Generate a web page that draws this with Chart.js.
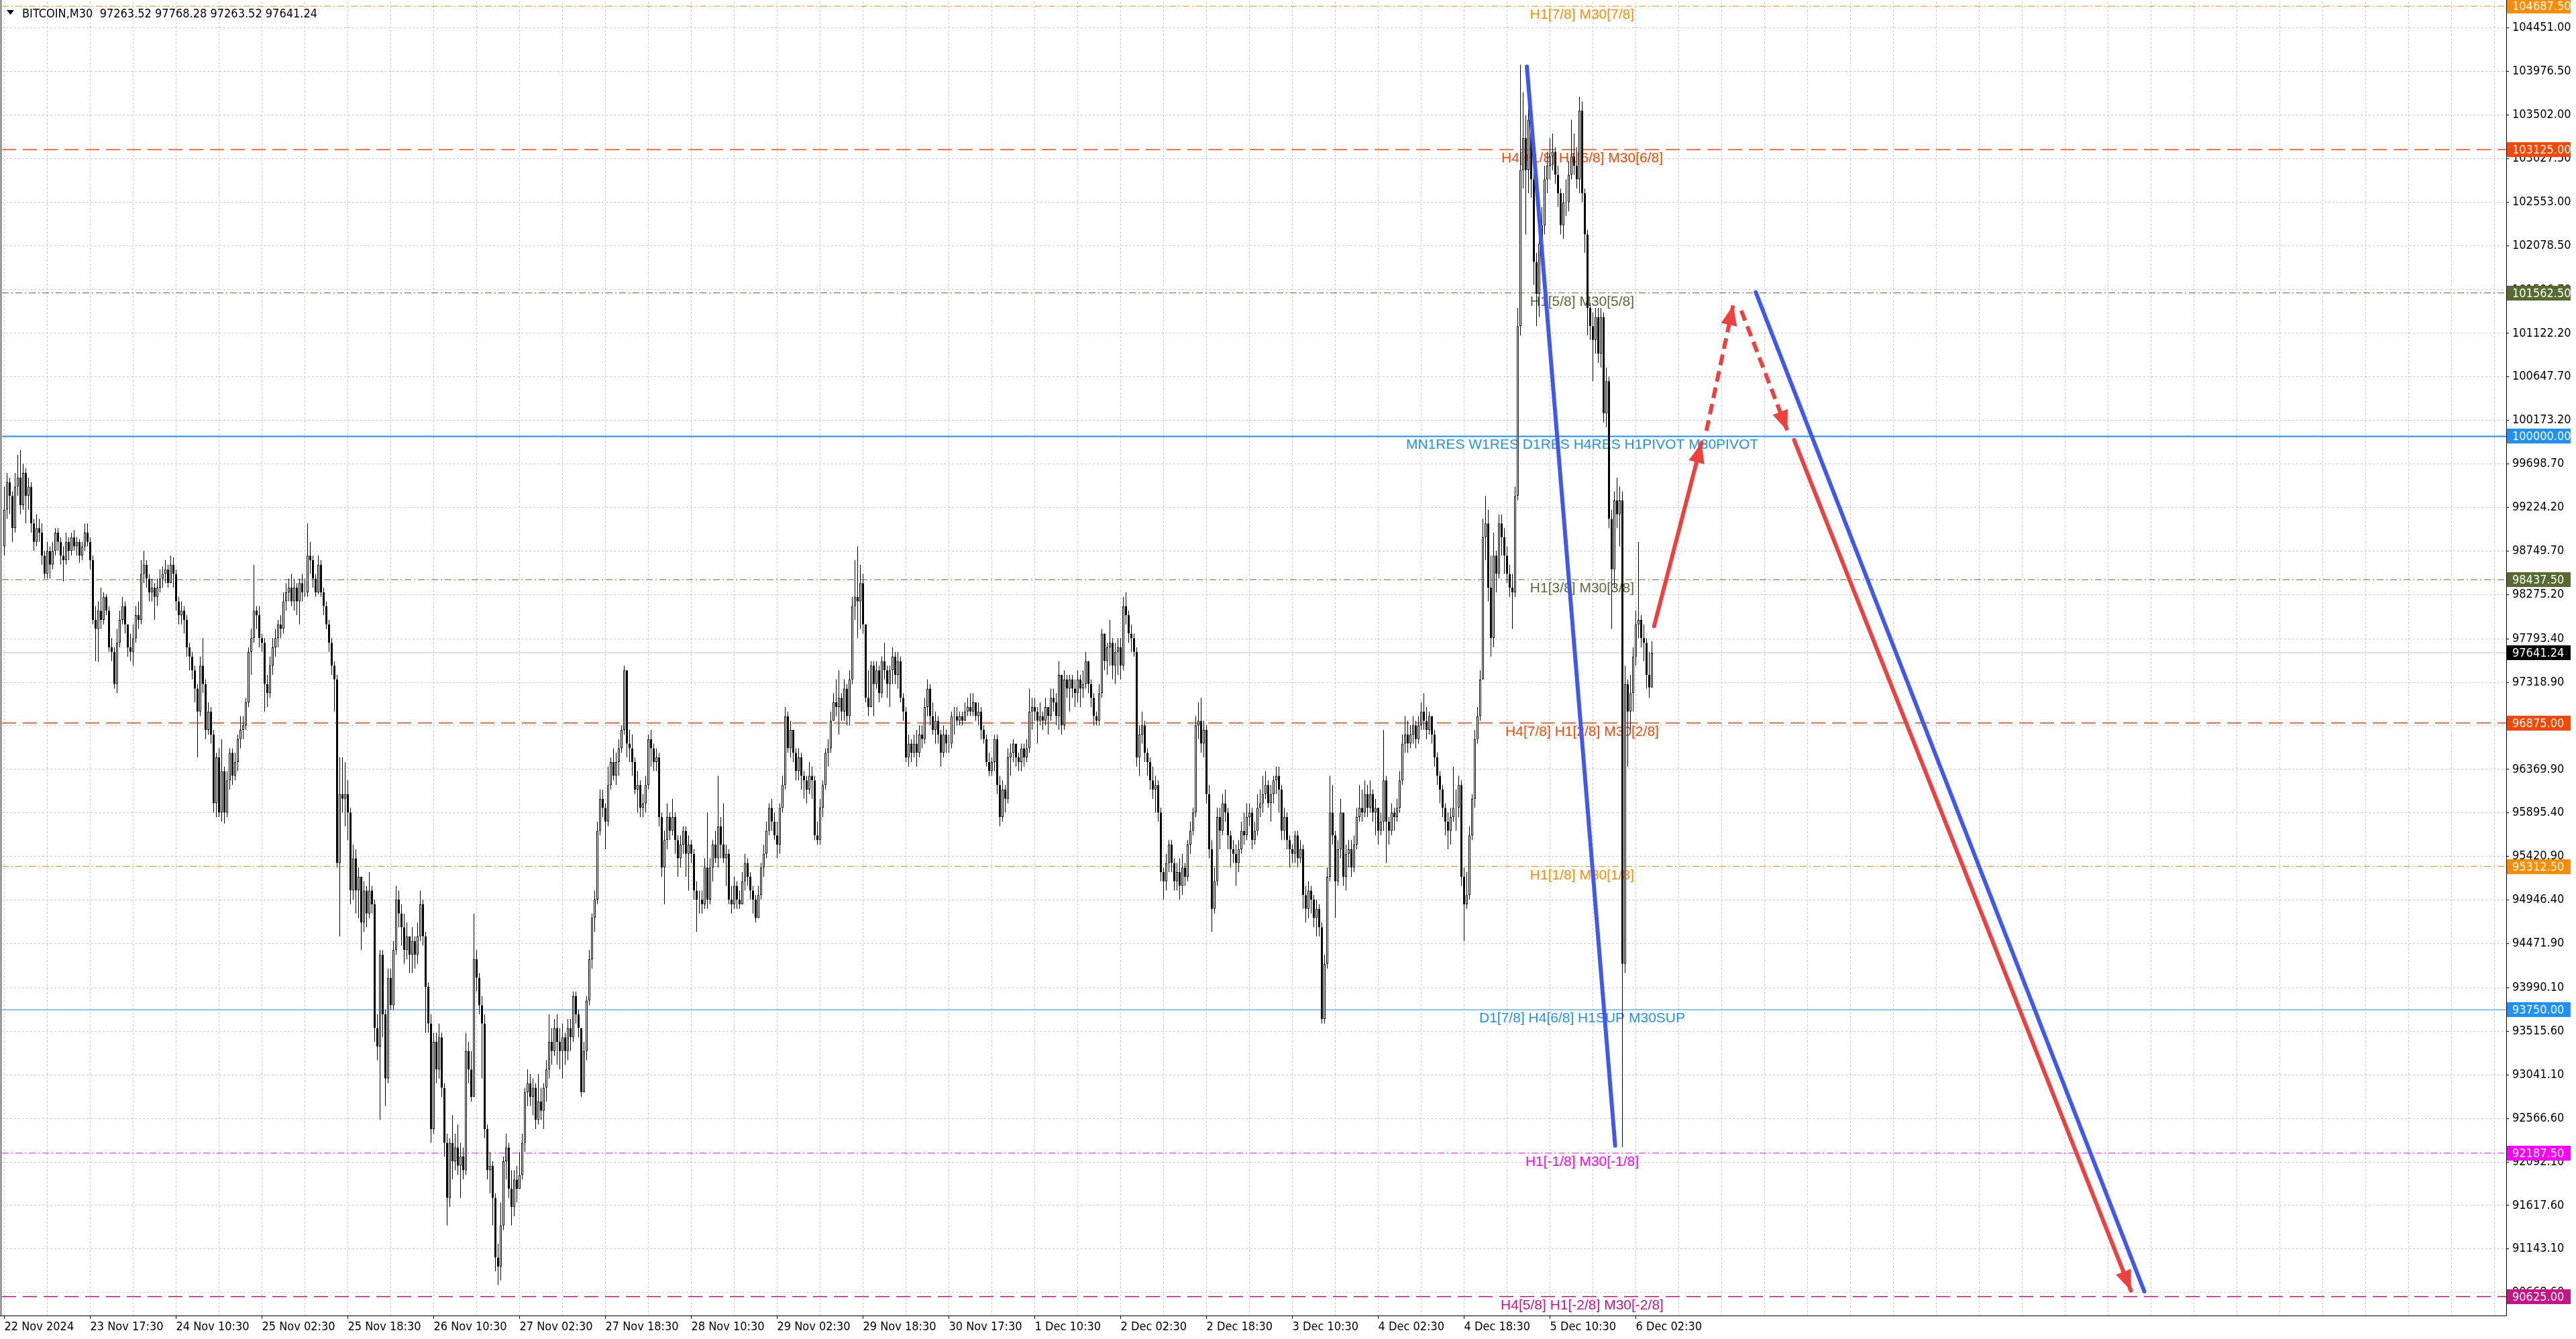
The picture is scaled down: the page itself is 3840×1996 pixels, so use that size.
<!DOCTYPE html>
<html>
<head>
<meta charset="utf-8">
<script src="https://cdn.jsdelivr.net/npm/chart.js@4.4.1/dist/chart.umd.min.js"></script>
<style>
  html, body { margin: 0; padding: 0; background: #ffffff; overflow: hidden; }
  canvas { display: block; }
</style>
</head>
<body>
<canvas id="btcChart" width="3840" height="1996"></canvas>
<script>
// BITCOIN M30 - candles, open = previous close
const firstOpen = 98800;
const closes = [
  99200, 99500, 99350, 99000, 99450, 99550, 99250, 99600, 99350, 99450,
  99050, 98850, 99000, 98950, 98700, 98500, 98750, 98600, 98750, 98950,
  98850, 98700, 98650, 98850, 98750, 98900, 98800, 98850, 98700, 98800,
  98950, 98850, 98650, 98000, 97900, 98100, 98000, 98250, 98100, 97700,
  97650, 97300, 97750, 98000, 98150, 97950, 97700, 97650, 97800, 98050,
  98000, 98500, 98600, 98450, 98300, 98350, 98250, 98350, 98450, 98500,
  98550, 98400, 98600, 98500, 98200, 98050, 98100, 98000, 97700, 97600,
  97450, 97250, 97000, 97500, 97300, 96800, 97000, 96750, 96000, 96500,
  95900, 96350, 95900, 96250, 96550, 96300, 96450, 96700, 96800, 96850,
  97100, 97650, 97800, 98100, 98050, 97800, 97750, 97300, 97200, 97500,
  97700, 97800, 97950, 97900, 98200, 98300, 98350, 98200, 98350, 98200,
  98400, 98300, 98300, 98700, 98650, 98450, 98300, 98600, 98300, 98150,
  97950, 97750, 97500, 97350, 95350, 96100, 96050, 96100, 95900, 95050,
  95400, 95050, 95200, 94700, 95050, 94800, 95050, 94900, 93550, 93350,
  94350, 93700, 93000, 94100, 93800, 94400, 94950, 94800, 94650, 94400,
  94550, 94350, 94500, 94350, 94550, 94900, 94550, 94000, 93600, 92450,
  93400, 93100, 93450, 92900, 92300, 91700, 92300, 92100, 92250, 92050,
  92150, 92000, 93300, 93100, 92800, 94300, 94100, 93800, 93600, 92450,
  92000, 92050, 91700, 91050, 90950, 91400, 92100, 92250, 91800, 91600,
  91900, 91800, 91950, 92300, 92850, 92950, 92800, 92900, 92550, 92750,
  92650, 92900, 93100, 93400, 93300, 93550, 93400, 93300, 93450, 93300,
  93550, 93450, 93900, 93700, 93550, 92850, 93300, 93850, 94300, 94750,
  94950, 95700, 96050, 95950, 95800, 96200, 96450, 96300, 96450, 96600,
  96800, 97450, 96650, 96600, 96450, 96150, 96200, 95950, 96000, 96200,
  96700, 96600, 96450, 96500, 95850, 95300, 95600, 95850, 95700, 95850,
  95600, 95400, 95550, 95700, 95450, 95550, 95450, 95050, 94950, 94950,
  94900, 95300, 94950, 95300, 95550, 95400, 95750, 95550, 95400, 95450,
  94950, 94900, 95100, 94950, 94900, 95150, 95350, 95200, 95050, 94950,
  94750, 95000, 95300, 95450, 95700, 95950, 95800, 95650, 95550, 95950,
  96200, 96950, 96600, 96800, 96550, 96350, 96500, 96300, 96250, 96150,
  96300, 96250, 95650, 95600, 95950, 96200, 96550, 96600, 96900, 97100,
  97050, 97150, 97000, 97250, 96950, 97350, 98150, 98250, 98200, 98400,
  97950, 97150, 97050, 97500, 97300, 97450, 97200, 97550, 97450, 97300,
  97450, 97600, 97400, 97550, 97150, 97000, 96500, 96650, 96550, 96650,
  96550, 96750, 96700, 97050, 97250, 96950, 96800, 96900, 96750, 96550,
  96750, 96650, 96650, 96950, 96950, 96900, 96950, 96900, 97000, 97050,
  97000, 97100, 96950, 97000, 96800, 96700, 96450, 96350, 96450, 96700,
  96200, 95850, 96150, 96050, 96500, 96550, 96650, 96500, 96450, 96600,
  96500, 96600, 97000, 97050, 97000, 96900, 96950, 96900, 97050, 96950,
  97150, 97100, 96950, 97400, 96850, 97350, 97250, 97350, 97250, 97200,
  97350, 97250, 97300, 97550, 97300, 97150, 96950, 96900, 97200, 97850,
  97550, 97700, 97750, 97500, 97650, 97700, 97500, 98150, 98050, 97850,
  97800, 97650, 96500, 96750, 96850, 96550, 96450, 96250, 96150, 96200,
  95900, 95250, 95150, 95350, 95550, 95350, 95150, 95250, 95100, 95300,
  95200, 95550, 95700, 95900, 96850, 96900, 96650, 96800, 96100, 95500,
  94850, 95150, 95850, 95700, 96000, 95900, 95650, 95500, 95450, 95350,
  95500, 95700, 95650, 95850, 95900, 95600, 95700, 95950, 96000, 96100,
  96200, 96000, 96100, 96250, 96300, 96150, 95700, 95850, 95600, 95500,
  95450, 95650, 95400, 95500, 95000, 94850, 95050, 94950, 94750, 94850,
  94650, 93650, 94250, 95200, 95900, 95650, 95150, 95500, 95900, 95200,
  95450, 95500, 95300, 95550, 95850, 95950, 95900, 96100, 95950, 96100,
  95900, 95950, 95700, 95800, 96250, 95800, 95700, 95900, 95850, 95950,
  96250, 96650, 96750, 96650, 96750, 96850, 96700, 96850, 97000, 96900,
  96800, 96950, 96750, 96500, 96300, 96150, 95950, 95800, 95700, 95850,
  95950, 95950, 96200, 95200, 94900, 95000, 95650, 96050, 96700, 96950,
  97350, 98900, 99050, 98350, 97800, 98700, 98500, 99050, 98900, 98700,
  98500, 98350, 98300, 99350, 101200, 102900, 103250, 102900, 103450, 102800,
  101900, 101550, 102100, 102300, 102800, 102950, 103050, 103100, 102850, 102650,
  102300, 102550, 102550, 102850, 103050, 102950, 102800, 103550, 102650, 102200,
  101400, 101200, 101050, 101300, 100900, 101300, 100250, 100600, 99100, 98550,
  99300, 99150, 99300, 94250, 97300, 97000, 97200, 97600, 97950, 98000,
  97800, 97750, 97400, 97263.52, 97641.24
];
const highs = [
  99450, 99600, 99550, 99400, 99600, 99800, 99850, 99700, 99650, 99550,
  99500, 99100, 99150, 99100, 99050, 98750, 98850, 98800, 98850, 99000,
  99000, 98900, 98800, 98950, 98900, 98950, 98980, 98900, 98880, 98850,
  99050, 99050, 98900, 98700, 98150, 98200, 98350, 98300, 98280, 98150,
  97800, 97700, 97900, 98100, 98250, 98200, 97950, 97850, 97950, 98150,
  98200, 98650, 98750, 98650, 98500, 98450, 98400, 98450, 98550, 98580,
  98650, 98600, 98700, 98680, 98550, 98250, 98200, 98150, 98050, 97750,
  97650, 97500, 97300, 97600, 97800, 97350, 97100, 97050, 96800, 96550,
  96600, 96700, 96400, 96350, 96600, 96600, 96550, 96750, 96950, 96950,
  97150, 97700, 97900, 98600, 98150, 98150, 97850, 97800, 97400, 97600,
  97800, 97900, 98000, 98050, 98300, 98400, 98450, 98500, 98450, 98400,
  98450, 98500, 98450, 99050, 98850, 98700, 98500, 98700, 98650, 98350,
  98200, 98000, 97800, 97550, 97400, 96500, 96500, 96450, 96250, 95950,
  95550, 95500, 95300, 95200, 95150, 95100, 95250, 95100, 94950, 93700,
  94400, 94400, 93750, 94200, 94200, 94500, 95100, 95050, 94900, 94800,
  94700, 94550, 94650, 94550, 94700, 95050, 94950, 94600, 94050, 93700,
  93500, 93500, 93600, 93500, 92950, 92400, 92350, 92600, 92400, 92500,
  92300, 92250, 93500, 93400, 93300, 94800, 94400, 94150, 93900, 93700,
  92500, 92200, 92100, 91750, 91200, 91650, 92150, 92400, 92300, 92000,
  92000, 92050, 92200, 92400, 92900, 93100, 93050, 93000, 92950, 93050,
  92900, 92950, 93200, 93700, 93550, 93650, 93700, 93550, 93600, 93500,
  93650, 93650, 93950, 93950, 93750, 93550, 93400, 93900, 94400, 94800,
  95050, 95800, 96150, 96150, 96000, 96400, 96500, 96600, 96550, 96700,
  96850, 97500, 97450, 96800, 96750, 96500, 96350, 96250, 96100, 96300,
  96750, 96800, 96650, 96600, 96550, 95900, 95700, 96000, 95900, 96050,
  95900, 95650, 95650, 95750, 95750, 95650, 95600, 95500, 95150, 95050,
  95050, 95400, 95900, 95400, 95600, 95700, 96300, 95850, 96000, 95550,
  95500, 95100, 95200, 95150, 95050, 95250, 95450, 95400, 95250, 95100,
  95000, 95100, 95350, 95550, 95800, 96000, 96050, 95900, 95800, 96000,
  96300, 97050, 97000, 96900, 96800, 96600, 96600, 96550, 96350, 96300,
  96450, 96400, 96300, 95800, 96050, 96250, 96600, 96700, 97000, 97200,
  97350, 97450, 97200, 97350, 97300, 97450, 98250, 98650, 98800, 98600,
  98500, 97950, 97450, 97550, 97550, 97550, 97500, 97600, 97750, 97500,
  97500, 97700, 97650, 97650, 97600, 97200, 97050, 96750, 96700, 96750,
  96800, 96850, 96850, 97150, 97350, 97300, 97100, 97000, 96950, 96800,
  96850, 96800, 96750, 97000, 97050, 97050, 97000, 97000, 97100, 97150,
  97200, 97200, 97100, 97100, 97050, 96850, 96750, 96550, 96500, 96750,
  96750, 96300, 96250, 96200, 96600, 96650, 96700, 96650, 96550, 96650,
  96650, 96700, 97250, 97150, 97150, 97050, 97100, 97000, 97150, 97050,
  97250, 97250, 97200, 97550, 97400, 97450, 97400, 97400, 97400, 97350,
  97450, 97400, 97450, 97650, 97550, 97350, 97200, 97000, 97300, 97900,
  97850, 97750, 98000, 97800, 97750, 97800, 97800, 98250, 98300, 98100,
  97950, 97850, 97700, 96850, 97000, 96900, 96600, 96500, 96400, 96300,
  96250, 95950, 95300, 95450, 95600, 95600, 95400, 95350, 95400, 95450,
  95350, 95600, 95800, 95950, 96950, 97100, 97150, 96900, 96850, 96200,
  95600, 95300, 95950, 95950, 96100, 96150, 95950, 95700, 95600, 95550,
  95600, 95800, 95900, 96000, 96000, 95950, 95800, 96100, 96150, 96300,
  96350, 96250, 96200, 96300, 96400, 96400, 96200, 95950, 95900, 95650,
  95550, 95700, 95700, 95600, 95550, 95100, 95150, 95100, 95000, 94950,
  94900, 94700, 94350, 95300, 96300, 96200, 95700, 95600, 96050, 95900,
  95550, 95600, 95600, 95650, 95950, 96200, 96150, 96250, 96200, 96250,
  96150, 96050, 95950, 95900, 96800, 96300, 95850, 96000, 95950, 96050,
  96350, 96750, 96950, 96900, 96850, 96950, 96900, 96950, 97100, 97200,
  97050, 97000, 96950, 96800, 96550, 96350, 96200, 96000, 95900, 95950,
  96400, 96150, 96300, 96250, 95300, 95250, 95750, 96100, 96800, 97050,
  97450, 99100, 99350, 99200, 98700, 98950, 98750, 99150, 99150, 99000,
  98800, 98600, 98500, 99450, 101400, 104050, 103750, 103500, 103600, 103550,
  102950, 102000, 102200, 102500, 102950, 103100, 103250, 103300, 103150, 102950,
  102700, 102650, 102800, 103000, 103450, 103300, 103150, 103700, 103650, 102700,
  102250, 101450, 101350, 101400, 101400, 101400, 101350, 100750, 100650, 99200,
  99400, 99550, 99450, 99400, 97500, 97350, 97400, 97700, 98100, 98850,
  98050, 97950, 97800, 97650, 97768.28
];
const lows = [
  98700, 99100, 99150, 98850, 98950, 99350, 99150, 99200, 99050, 99200,
  98950, 98750, 98800, 98850, 98600, 98450, 98450, 98450, 98550, 98700,
  98750, 98600, 98420, 98600, 98650, 98700, 98750, 98700, 98620, 98650,
  98750, 98800, 98550, 97950, 97550, 97540, 97900, 97950, 98050, 97650,
  97550, 97250, 97200, 97700, 97950, 97850, 97600, 97550, 97500, 97750,
  97900, 97950, 98400, 98350, 98200, 98200, 98000, 98150, 98300, 98350,
  98400, 98350, 98400, 98350, 98100, 97950, 97950, 97850, 97600, 97450,
  97350, 97100, 96500, 96950, 97200, 96700, 96750, 96650, 95900, 95850,
  95850, 95800, 95780, 95850, 96150, 96200, 96250, 96350, 96600, 96700,
  96800, 97050, 97400, 97750, 97900, 97700, 97650, 97000, 97050, 97150,
  97400, 97600, 97700, 97800, 97850, 98100, 98200, 98150, 98100, 98050,
  97950, 98200, 98250, 98250, 98500, 98350, 98250, 98280, 98250, 98050,
  97900, 97650, 97400, 97000, 95300, 94550, 95900, 95750, 95600, 94900,
  94950, 94800, 94750, 94400, 94600, 94650, 94750, 94800, 93400, 93200,
  92550, 93450, 92700, 92950, 93750, 93750, 94350, 94650, 94450, 94250,
  94300, 94150, 94150, 94200, 94250, 94500, 94450, 93500, 93500, 92300,
  92400, 92950, 93000, 92800, 92150, 91400, 91600, 91900, 92000, 91950,
  91700, 91900, 91950, 92950, 92750, 92800, 93950, 93700, 93000, 92350,
  91900, 91750, 91400, 90900, 90750, 90800, 91350, 91900, 91700, 91400,
  91500, 91650, 91800, 91900, 92200, 92700, 92700, 92600, 92450, 92500,
  92550, 92450, 92750, 93000, 93150, 93250, 93150, 93100, 93000, 93150,
  93200, 93300, 93400, 93600, 93450, 92800, 92850, 93200, 93800, 94200,
  94600, 94900, 95650, 95850, 95500, 95750, 96150, 96250, 96200, 96300,
  96550, 96750, 96500, 96450, 96300, 96100, 95900, 95850, 95850, 95900,
  96150, 96400, 96350, 96350, 95750, 95200, 94900, 95500, 95600, 95650,
  95450, 95200, 95300, 95450, 95200, 95050, 95350, 94950, 94600, 94800,
  94800, 94850, 94850, 94900, 95150, 95350, 95300, 95400, 95350, 95100,
  94900, 94800, 94850, 94850, 94850, 94900, 95050, 95100, 94950, 94800,
  94700, 94750, 94950, 95200, 95400, 95650, 95700, 95600, 95400, 95450,
  95900, 96150, 96550, 96500, 96450, 96250, 96250, 96150, 96050, 96000,
  96100, 96050, 95600, 95550, 95550, 95850, 96150, 96400, 96550, 96900,
  96950, 96750, 96900, 96900, 96850, 96850, 97300, 98000, 97800, 97900,
  97850, 97100, 96950, 97050, 96950, 97250, 97100, 97150, 97350, 97150,
  97050, 97300, 97300, 97250, 97100, 96900, 96450, 96400, 96450, 96500,
  96400, 96500, 96600, 96650, 96950, 96850, 96750, 96650, 96650, 96400,
  96500, 96550, 96550, 96600, 96750, 96850, 96850, 96850, 96900, 96950,
  96950, 96950, 96900, 96850, 96700, 96650, 96400, 96300, 96300, 96350,
  96100, 95750, 95800, 95900, 96000, 96300, 96450, 96400, 96350, 96350,
  96400, 96450, 96550, 96800, 96900, 96650, 96850, 96800, 96850, 96750,
  96900, 97000, 96850, 96800, 96750, 96800, 97150, 97000, 97150, 97050,
  97100, 97050, 97150, 97250, 97200, 97050, 96850, 96850, 96850, 97150,
  97450, 97400, 97500, 97350, 97300, 97400, 97350, 97450, 97950, 97750,
  97650, 97600, 96400, 96300, 96650, 96450, 96300, 96150, 96050, 95900,
  95800, 95150, 94950, 95050, 95250, 95250, 95050, 95050, 94950, 95000,
  95100, 95150, 95450, 95650, 95850, 96700, 96550, 96500, 96000, 95400,
  94600, 94800, 95100, 95500, 95650, 95800, 95500, 95300, 95350, 95100,
  95250, 95450, 95550, 95600, 95750, 95500, 95550, 95650, 95850, 95900,
  96050, 95950, 95800, 96000, 96100, 95900, 95600, 95600, 95500, 95300,
  95350, 95350, 95300, 95350, 94850, 94700, 94750, 94800, 94650, 94550,
  94550, 93600, 93600, 94200, 95150, 95550, 94750, 95100, 95400, 95100,
  95050, 95300, 95200, 95250, 95500, 95800, 95800, 95850, 95850, 95900,
  95800, 95650, 95550, 95650, 95700, 95350, 95550, 95650, 95700, 95800,
  95900, 96200, 96550, 96550, 96600, 96650, 96600, 96650, 96800, 96800,
  96700, 96750, 96650, 96400, 96200, 96000, 95850, 95650, 95500, 95550,
  95800, 95700, 95850, 95100, 94500, 94850, 94950, 95600, 95950, 96650,
  96900, 97350, 98650, 98200, 97600, 97700, 98300, 98450, 98700, 98500,
  98400, 98250, 97900, 98250, 99300, 101100, 102700, 102200, 102650, 102600,
  101650, 101200, 101300, 101900, 102200, 102650, 102800, 102900, 102750, 102500,
  102200, 102150, 102400, 102450, 102800, 102850, 102700, 102650, 102550, 102000,
  101100, 101050, 100600, 100900, 100800, 100750, 100150, 100100, 99000, 97900,
  98350, 99000, 98800, 92250, 94150, 96400, 96800, 97000, 97500, 97800,
  97700, 97550, 97250, 97150, 97263.52
];

// bottom axis labels, one every 32 bars
const timeLabels = [
  '22 Nov 2024', '23 Nov 17:30', '24 Nov 10:30', '25 Nov 02:30', '25 Nov 18:30',
  '26 Nov 10:30', '27 Nov 02:30', '27 Nov 18:30', '28 Nov 10:30', '29 Nov 02:30',
  '29 Nov 18:30', '30 Nov 17:30', '1 Dec 10:30', '2 Dec 02:30', '2 Dec 18:30',
  '3 Dec 10:30', '4 Dec 02:30', '4 Dec 18:30', '5 Dec 10:30', '6 Dec 02:30'
];
// right price scale labels
const priceTicks = [
  104451.00, 103976.50, 103502.00, 103027.50, 102553.00, 102078.50, 101596.70,
  101122.20, 100647.70, 100173.20, 99698.70, 99224.20, 98749.70, 98275.20,
  97793.40, 97318.90, 96844.40, 96369.90, 95895.40, 95420.90, 94946.40,
  94471.90, 93990.10, 93515.60, 93041.10, 92566.60, 92092.10, 91617.60,
  91143.10, 90668.60
];

// murrey / pivot levels
const levelPrices = [104687.5, 103125, 101562.5, 100000, 98437.5, 96875, 95312.5, 93750, 92187.5, 90625];
const levelTexts = [
  'H1[7/8] M30[7/8]',
  'H4[+1/8] H1[6/8] M30[6/8]',
  'H1[5/8] M30[5/8]',
  'MN1RES W1RES D1RES H4RES H1PIVOT M30PIVOT',
  'H1[3/8] M30[3/8]',
  'H4[7/8] H1[2/8] M30[2/8]',
  'H1[1/8] M30[1/8]',
  'D1[7/8] H4[6/8] H1SUP M30SUP',
  'H1[-1/8] M30[-1/8]',
  'H4[5/8] H1[-2/8] M30[-2/8]'
];
const bidPrice = 97641.24;
const ohlcText = 'BITCOIN,M30  97263.52 97768.28 97263.52 97641.24';

// drawn trend lines and arrows (bar index, price)
const blueLineA = [{ x: 567.4, y: 104030 }, { x: 600.3, y: 92270 }];
const blueLineB = [{ x: 652.7, y: 101570 }, { x: 797.5, y: 90680 }];
const redUp = [{ x: 614.8, y: 97930 }, { x: 632.5, y: 99930 }];
const redDashUp = [{ x: 634.3, y: 100060 }, { x: 644.3, y: 101430 }];
const redDashDown = [{ x: 647.3, y: 101370 }, { x: 664.5, y: 100060 }];
const redDown = [{ x: 667, y: 99960 }, { x: 792.5, y: 90690 }];

// styles
const X_MIN = -0.875, X_MAX = 932.375;
const Y_MIN = 90418, Y_MAX = 104733;
const axisFont = "'DejaVu Sans Condensed', 'Liberation Sans', sans-serif";
const levelFont = "'Liberation Sans', Arial, sans-serif";
const DASH = [21, 10];
const DASHDOT = [10, 4, 2, 4];
const levelStyle = [
  { color: '#FF8C00', dash: DASHDOT, width: 1 },
  { color: '#FF4500', dash: DASH, width: 1.5 },
  { color: '#556B2F', dash: DASHDOT, width: 1 },
  { color: '#1E90FF', dash: [], width: 2 },
  { color: '#556B2F', dash: DASHDOT, width: 1 },
  { color: '#FF4500', dash: DASH, width: 1.5 },
  { color: '#FF8C00', dash: DASHDOT, width: 1 },
  { color: '#1E90FF', dash: [], width: 1 },
  { color: '#FF00FF', dash: DASHDOT, width: 1 },
  { color: '#C71585', dash: DASH, width: 1.5 }
];
const BLUE = '#4058f0';
const RED = '#ef4040';

const candles = closes.map((c, i) => {
  const o = i === 0 ? firstOpen : closes[i - 1];
  return { i, o, c, h: Math.max(highs[i], o, c), l: Math.min(lows[i], o, c) };
});

const levelDatasets = levelPrices.map((p, k) => ({
  type: 'line',
  data: [{ x: X_MIN, y: p }, { x: X_MAX, y: p }],
  borderColor: levelStyle[k].color,
  borderWidth: levelStyle[k].width,
  borderDash: levelStyle[k].dash,
  pointRadius: 0,
  order: 3
}));
levelDatasets.push({
  type: 'line',
  data: [{ x: X_MIN, y: bidPrice }, { x: X_MAX, y: bidPrice }],
  borderColor: '#c0c0c0',
  borderWidth: 1,
  pointRadius: 0,
  order: 3
});

function trend(points, color, dashed) {
  return {
    type: 'line',
    data: points,
    borderColor: color,
    borderWidth: 6,
    borderDash: dashed ? [16, 9] : [],
    borderCapStyle: dashed ? 'butt' : 'round',
    pointRadius: 0,
    order: 0
  };
}

const arrowSets = [redUp, redDashUp, redDashDown, redDown];

const datasets = [
  trend(blueLineA, BLUE, false),
  trend(blueLineB, BLUE, false),
  trend(redUp, RED, false),
  trend(redDashUp, RED, true),
  trend(redDashDown, RED, true),
  trend(redDown, RED, false),
  {
    type: 'bar',
    data: candles.map(b => ({ x: b.i, y: [b.o, b.c] })),
    backgroundColor: candles.map(b => (b.c >= b.o ? '#ffffff' : '#000000')),
    borderColor: '#000000',
    borderWidth: 1,
    borderSkipped: false,
    grouped: false,
    barThickness: 3,
    maxBarThickness: 3,
    inflateAmount: 0,
    order: 1
  },
  {
    type: 'bar',
    data: candles.map(b => ({ x: b.i, y: [b.l, b.h] })),
    backgroundColor: '#000000',
    borderWidth: 0,
    grouped: false,
    barThickness: 1,
    maxBarThickness: 1,
    inflateAmount: 0,
    order: 2
  },
  ...levelDatasets
];

// level captions under the lines, behind the candles
const levelCaptions = {
  id: 'levelCaptions',
  beforeDatasetsDraw(chart) {
    const { ctx, scales: { x, y } } = chart;
    ctx.save();
    ctx.font = '21px ' + levelFont;
    ctx.textAlign = 'center';
    ctx.textBaseline = 'alphabetic';
    const cx = x.getPixelForValue(588);
    levelPrices.forEach((p, k) => {
      ctx.fillStyle = levelStyle[k].color;
      ctx.fillText(levelTexts[k], cx, y.getPixelForValue(p) + 19);
    });
    ctx.restore();
  }
};

// arrow heads on the red lines
const arrowHeads = {
  id: 'arrowHeads',
  afterDatasetsDraw(chart) {
    const { ctx } = chart;
    ctx.save();
    ctx.fillStyle = RED;
    arrowSets.forEach((pts, k) => {
      const meta = chart.getDatasetMeta(2 + k);
      const a = meta.data[0], b = meta.data[1];
      const ang = Math.atan2(b.y - a.y, b.x - a.x);
      const len = 30, half = 12;
      ctx.beginPath();
      ctx.moveTo(b.x, b.y);
      ctx.lineTo(b.x - len * Math.cos(ang) + half * Math.sin(ang), b.y - len * Math.sin(ang) - half * Math.cos(ang));
      ctx.lineTo(b.x - len * Math.cos(ang) - half * Math.sin(ang), b.y - len * Math.sin(ang) + half * Math.cos(ang));
      ctx.closePath();
      ctx.fill();
    });
    ctx.restore();
  }
};

// price boxes on the right scale, frame and header text
const frameAndBoxes = {
  id: 'frameAndBoxes',
  afterDraw(chart) {
    const { ctx, chartArea: area, scales: { y } } = chart;
    ctx.save();
    ctx.strokeStyle = '#000000';
    ctx.lineWidth = 1;
    ctx.beginPath();
    ctx.moveTo(area.right + 0.5, 0);
    ctx.lineTo(area.right + 0.5, area.bottom + 0.5);
    ctx.lineTo(0, area.bottom + 0.5);
    ctx.moveTo(1.5, 0);
    ctx.lineTo(1.5, area.bottom);
    ctx.stroke();

    ctx.font = '18px ' + axisFont;
    ctx.textAlign = 'left';
    ctx.textBaseline = 'middle';
    const boxes = levelPrices.map((p, k) => ({ p, color: levelStyle[k].color }));
    boxes.push({ p: bidPrice, color: '#000000' });
    boxes.forEach(bx => {
      const py = Math.round(y.getPixelForValue(bx.p));
      ctx.fillStyle = bx.color;
      ctx.fillRect(area.right + 1, py - 11, 95, 22);
      ctx.fillStyle = '#ffffff';
      ctx.fillText(bx.p.toFixed(2), area.right + 9, py + 1);
    });

    // header
    ctx.fillStyle = '#000000';
    ctx.beginPath();
    ctx.moveTo(10, 15);
    ctx.lineTo(21, 15);
    ctx.lineTo(15.5, 22);
    ctx.closePath();
    ctx.fill();
    ctx.textBaseline = 'alphabetic';
    ctx.fillText(ohlcText, 33, 26);
    ctx.restore();
  }
};

new Chart(document.getElementById('btcChart').getContext('2d'), {
  type: 'bar',
  data: { datasets },
  plugins: [levelCaptions, arrowHeads, frameAndBoxes],
  options: {
    responsive: false,
    animation: false,
    devicePixelRatio: 1,
    events: [],
    layout: { padding: { left: 3, top: 3, right: 0, bottom: 0 } },
    plugins: { legend: { display: false }, tooltip: { enabled: false } },
    scales: {
      x: {
        type: 'linear',
        min: X_MIN,
        max: X_MAX,
        bounds: 'data',
        offset: false,
        grid: {
          offset: false,
          color: '#c8c8c8',
          lineWidth: 1,
          tickLength: 5,
          tickColor: ctx => (ctx.tick && ctx.tick.value % 32 === 0 && ctx.tick.value / 32 < timeLabels.length ? '#000000' : 'rgba(0,0,0,0)')
        },
        border: { display: false, dash: [3, 3] },
        ticks: {
          autoSkip: false,
          maxRotation: 0,
          minRotation: 0,
          align: 'start',
          padding: 2,
          color: '#000000',
          font: { family: axisFont, size: 18 },
          callback: v => (v % 32 === 0 && v / 32 < timeLabels.length ? timeLabels[v / 32] : '')
        },
        afterBuildTicks: s => {
          const t = [];
          for (let v = 0; v <= X_MAX; v += 16) t.push({ value: v });
          s.ticks = t;
        },
        afterFit: s => {
          s.height = 35;
          s.paddingLeft = 0;
          s.paddingRight = 0;
        }
      },
      y: {
        position: 'right',
        min: Y_MIN,
        max: Y_MAX,
        bounds: 'data',
        grid: { color: '#c8c8c8', lineWidth: 1, tickLength: 4, tickColor: '#000000' },
        border: { display: false, dash: [3, 3] },
        ticks: {
          padding: 5,
          color: '#000000',
          font: { family: axisFont, size: 18 },
          callback: v => v.toFixed(2)
        },
        afterBuildTicks: s => { s.ticks = priceTicks.map(v => ({ value: v })); },
        afterFit: s => {
          s.width = 104;
          s.paddingTop = 0;
          s.paddingBottom = 0;
        }
      }
    }
  }
});
</script>
</body>
</html>
